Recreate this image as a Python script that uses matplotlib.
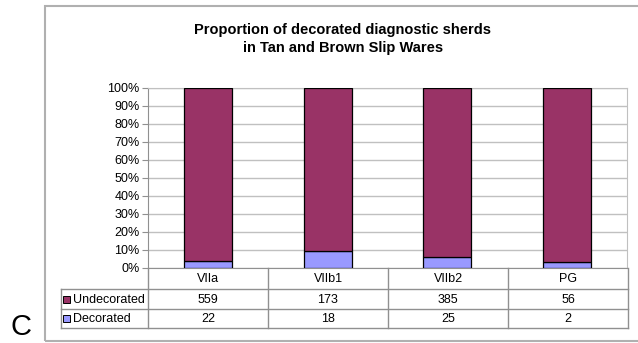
import numpy as np
import matplotlib.pyplot as plt
from matplotlib.patches import Rectangle
from matplotlib.lines import Line2D

plt.rcParams['font.family'] = ['Liberation Sans', 'DejaVu Sans']

# data
periods = ["VIIa", "VIIb1", "VIIb2", "PG"]
undecorated = [559, 173, 385, 56]
decorated = [22, 18, 25, 2]
series_names = ["Undecorated", "Decorated"]
yticks = [0, 10, 20, 30, 40, 50, 60, 70, 80, 90, 100]

c_undec = "#993366"
c_dec = "#9999FF"
grid_c = "#C0C0C0"
line_c = "#909090"

W, H = 638, 343
fig = plt.figure(figsize=(W / 100, H / 100), dpi=100)


def px(x):
    return x / W


def py(y):
    return 1 - y / H


# outer chart frame
fig.add_artist(Rectangle((px(45), py(341)), px(640) - px(45), py(6) - py(341),
                         transform=fig.transFigure, fill=False,
                         edgecolor="#B0B0B0", lw=1.5))

ax = fig.add_axes([px(148), py(268), px(627) - px(148), py(88) - py(268)])

und = np.array(undecorated, float)
dec = np.array(decorated, float)
tot = und + dec
dec_pct = dec / tot * 100
und_pct = und / tot * 100
x = np.arange(len(periods))

ax.bar(x, dec_pct, 0.4, color=c_dec, edgecolor="black", lw=0.9, zorder=3)
ax.bar(x, und_pct, 0.4, bottom=dec_pct, color=c_undec, edgecolor="black",
       lw=0.9, zorder=3)

ax.set_xlim(-0.5, len(periods) - 0.5)
ax.set_ylim(0, 100)
ax.set_yticks(yticks)
ax.set_yticklabels([f"{t}%" for t in yticks], fontsize=9)
ax.set_xticks([])
ax.yaxis.grid(True, color=grid_c, lw=1, zorder=0)
for s in ax.spines.values():
    s.set_color(grid_c)
ax.spines["left"].set_color(line_c)
ax.spines["bottom"].set_color(line_c)
ax.tick_params(axis="y", length=4, color=line_c, pad=2)

fig.text(px(343), py(30), "Proportion of decorated diagnostic sherds",
         ha="center", va="center", fontsize=10.5, fontweight="bold")
fig.text(px(343), py(48), "in Tan and Brown Slip Wares",
         ha="center", va="center", fontsize=10.5, fontweight="bold")

# data table under the chart
col_edges = [148, 268, 388, 508, 628]
row_edges = [268, 289, 309, 328]
tbl_left = 61


def hline(y, x0, x1):
    fig.add_artist(Line2D([px(x0), px(x1)], [py(y), py(y)],
                          transform=fig.transFigure, color=line_c, lw=1))


def vline(x_, y0, y1):
    fig.add_artist(Line2D([px(x_), px(x_)], [py(y0), py(y1)],
                          transform=fig.transFigure, color=line_c, lw=1))


for y in row_edges[1:]:
    hline(y, tbl_left, col_edges[-1])
for xe in col_edges:
    vline(xe, row_edges[0], row_edges[-1])
vline(tbl_left, row_edges[1], row_edges[-1])

rows = [undecorated, decorated]
colors = [c_undec, c_dec]
for i, name in enumerate(periods):
    cx = (col_edges[i] + col_edges[i + 1]) / 2
    fig.text(px(cx), py((row_edges[0] + row_edges[1]) / 2 + 1), name,
             ha="center", va="center", fontsize=9)
    for r, vals in enumerate(rows):
        cy = (row_edges[r + 1] + row_edges[r + 2]) / 2 + 1
        fig.text(px(cx), py(cy), str(vals[i]), ha="center", va="center",
                 fontsize=9)

for r, name in enumerate(series_names):
    cy = (row_edges[r + 1] + row_edges[r + 2]) / 2
    fig.add_artist(Rectangle((px(63), py(cy + 3.5)), px(7), py(0) - py(7),
                             transform=fig.transFigure, facecolor=colors[r],
                             edgecolor="black", lw=0.7))
    fig.text(px(73), py(cy + 1), name, ha="left", va="center", fontsize=9)

fig.text(px(11), py(327), "C", ha="left", va="center", fontsize=21)

fig.savefig("out.png", dpi=100)
